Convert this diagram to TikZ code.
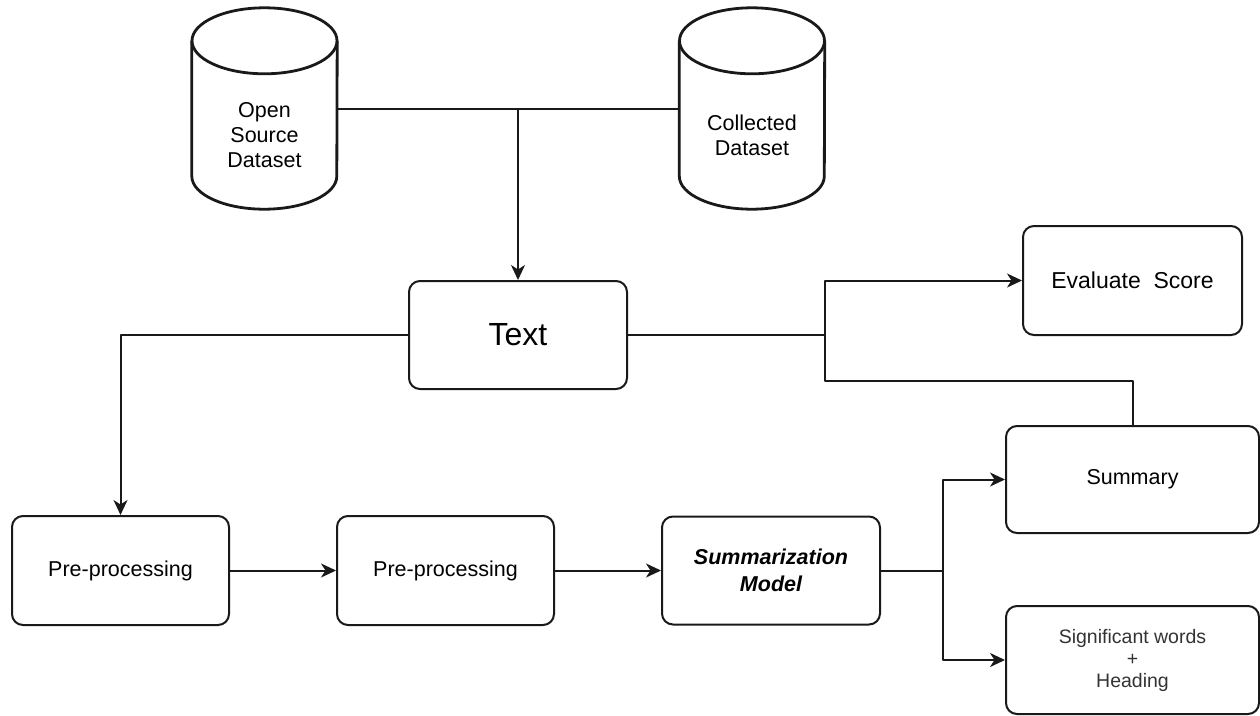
\documentclass[tikz,border=0pt]{standalone}
\usepackage{fontspec}
\setmainfont{Liberation Sans}
\usetikzlibrary{arrows.meta}
\begin{document}
\begin{tikzpicture}[x=1pt,y=-1pt,
  line join=round,
  flowbox/.style={draw=black!90, line width=2pt, rounded corners=11pt, align=center,
    inner sep=0pt, font=\fontsize{21.5}{25}\selectfont},
  link/.style={draw=black!90, line width=2pt},
  arrow/.style={link, -{Stealth[length=15pt,width=14pt,inset=4.5pt]}},
  cylbody/.style={draw=black!90, line width=2.8pt},
  cylframe/.style={minimum width=145pt, minimum height=201pt, inner sep=0pt},
  cyllabel/.style={align=center, font=\fontsize{21.5}{25}\selectfont}
]
\useasboundingbox (0,0) rectangle (1260,715);

% data sources (cylinders)
\node[cylframe] (osd) at (264.5,108.5) {};
\node[cylframe] (cd) at (752,108.5) {};
\foreach \c in {osd,cd} {
  \path (\c.north west) ++(0,33) coordinate (\c-tl);
  \path (\c.north east) ++(0,33) coordinate (\c-tr);
  \path (\c.south west) ++(0,-33) coordinate (\c-bl);
  \draw[cylbody] (\c-tl) -- (\c-bl)
    arc[start angle=180, end angle=0, x radius=72.5, y radius=33] -- (\c-tr);
  \draw[cylbody] (\c.north) ++(0,33) ellipse[x radius=72.5, y radius=33];
}
\node[cyllabel] (osdtext) at (264.5,135) {Open\\Source\\Dataset};
\node[cyllabel] (cdtext) at (752,135) {Collected\\Dataset};

% process boxes
\node[flowbox, minimum width=218pt, minimum height=108pt,
  font=\fontsize{32}{38}\selectfont] (text) at (518,335) {Text};
\node[flowbox, minimum width=219pt, minimum height=109pt,
  font=\fontsize{23}{27}\selectfont] (eval) at (1132.5,280.5) {Evaluate\ \ Score};
\node[flowbox, minimum width=253pt, minimum height=107pt] (summary) at (1132.5,479.5) {Summary};
\node[flowbox, minimum width=217pt, minimum height=109pt] (pre1) at (120.5,570.5) {Pre-processing};
\node[flowbox, minimum width=217pt, minimum height=109pt] (pre2) at (445.5,570.5) {Pre-processing};
\node[flowbox, minimum width=218pt, minimum height=108pt,
  font=\fontsize{21.5}{26.5}\selectfont\bfseries\itshape] (model) at (771,570.5) {Summarization\\Model};
\node[flowbox, minimum width=253pt, minimum height=108pt, text=black!80,
  font=\fontsize{19.5}{22}\selectfont] (sig) at (1132.5,660) {Significant words\\+\\Heading};

% junction points
\coordinate (join) at (825,335);
\coordinate (sumtop) at (825,381);
\coordinate (split) at (943,570.5);

% connectors
\draw[link] (osd.east) -- (cd.west);
\draw[arrow] (text.north |- osd.east) -- (text.north);
\draw[arrow] (text.west) -| (pre1.north);
\draw[arrow] (pre1.east) -- (pre2.west);
\draw[arrow] (pre2.east) -- (model.west);
\draw[arrow] (model.east) -- (split) |- (summary.west);
\draw[arrow] (split) |- (sig.west);
\draw[arrow] (text.east) -- (join) |- (eval.west);
\draw[link] (summary.north) |- (sumtop) -- (join);
\end{tikzpicture}
\end{document}
